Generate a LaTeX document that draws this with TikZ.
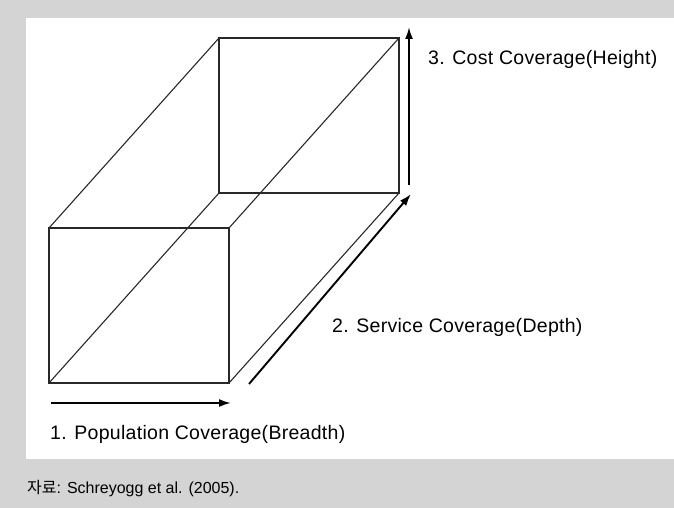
\documentclass[tikz,border=0pt]{standalone}
\usepackage{fontspec}
\setmainfont{Liberation Sans}
\newfontfamily\krfont{Noto Sans CJK KR}
\usetikzlibrary{arrows.meta}
\definecolor{framegray}{RGB}{212,212,212}
\definecolor{edgegray}{RGB}{40,40,40}
\tikzset{
  edge/.style={draw=edgegray, line width=1.1pt},
  axisarrow/.style={draw=black, line width=1.9pt, -{Latex[length=12pt,width=8pt]}},
  axislabel/.style={anchor=base west, inner sep=0pt,
    font=\fontsize{19.5}{23}\selectfont\addfontfeature{LetterSpace=1.5}},
  sourcenote/.style={anchor=base west, inner sep=0pt,
    font=\fontsize{16}{19}\selectfont},
}
\begin{document}
\begin{tikzpicture}[x=1pt,y=-1pt]
\useasboundingbox (0,0) rectangle (674,508);
% frame and white panel
\fill[framegray] (0,0) rectangle (674,508);
\fill[white] (26,18) rectangle (674,459);

% box corners: front face and back face
\coordinate (f1) at (49,228);
\coordinate (f2) at (229,228);
\coordinate (f3) at (229,383);
\coordinate (f4) at (49,383);
\coordinate (b1) at (219,38);
\coordinate (b2) at (399,38);
\coordinate (b3) at (399,193);
\coordinate (b4) at (219,193);

\draw[edge] (f1) -- (f2) -- (f3) -- (f4) -- cycle;
\draw[edge] (b1) -- (b2) -- (b3) -- (b4) -- cycle;
\draw[edge] (f1) -- (b1);
\draw[edge] (f2) -- (b2);
\draw[edge] (f3) -- (b3);
\draw[edge] (f4) -- (b4);

% coverage axes
\coordinate (w0) at (51,403);
\coordinate (w1) at (231,403);
\coordinate (d0) at (249,384);
\coordinate (d1) at (411,194);
\coordinate (h0) at (409,185);
\coordinate (h1) at (409,27);

\draw[axisarrow] (w0) -- (w1);
\draw[axisarrow] (d0) -- (d1);
\draw[axisarrow] (h0) -- (h1);

% labels
\node[axislabel] (lh) at (428,65) {3. Cost Coverage(Height)};
\node[axislabel] (ld) at (332,332) {2. Service Coverage(Depth)};
\node[axislabel] (lw) at (50,439) {1. Population Coverage(Breadth)};
\node[sourcenote] (src) at (27,493) {{\krfont 자료}: Schreyogg et al. (2005).};
\end{tikzpicture}
\end{document}
